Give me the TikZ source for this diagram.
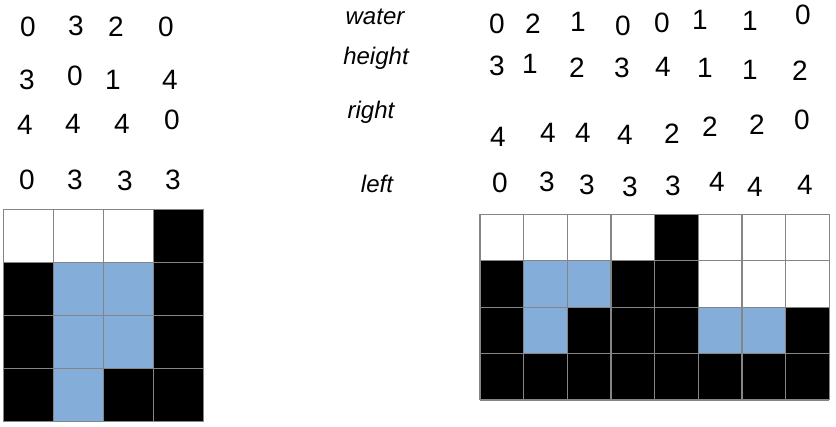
\documentclass[tikz,border=0pt]{standalone}
\usepackage{fontspec}
\setmainfont{Liberation Sans}
\definecolor{waterc}{HTML}{85ADDA}
\definecolor{gridc}{HTML}{858585}
\tikzset{
  num/.style={font=\fontsize{28}{28}\selectfont, inner sep=0pt, anchor=center},
  lbl/.style={font=\fontsize{24}{24}\selectfont\itshape, inner sep=0pt, anchor=center},
  gline/.style={draw=gridc, line width=1.3pt},
}
\begin{document}
\begin{tikzpicture}[x=1pt,y=-1pt]
\useasboundingbox[fill=white] (0,0) rectangle (836,427);
% ---------- left grid (4x4) ----------
\def\LX{3.3}\def\LY{209.5}\def\LW{50}\def\LH{53.05}
\foreach \c/\r in {3/0,0/1,3/1,0/2,3/2,0/3,2/3,3/3}
  \fill[black] (\LX+\c*\LW,\LY+\r*\LH) rectangle ++(\LW,\LH);
\foreach \c/\r in {1/1,2/1,1/2,2/2,1/3}
  \fill[waterc] (\LX+\c*\LW,\LY+\r*\LH) rectangle ++(\LW,\LH);
\foreach \i in {0,...,4} {
  \draw[gline] (\LX+\i*\LW,\LY) -- (\LX+\i*\LW,\LY+4*\LH);
  \draw[gline] (\LX,\LY+\i*\LH) -- (\LX+4*\LW,\LY+\i*\LH);
}
% ---------- right grid (8x4) ----------
\def\RX{480}\def\RY{214.3}\def\RW{43.66}\def\RH{46.43}
\foreach \c/\r in {4/0,0/1,3/1,4/1,0/2,2/2,3/2,4/2,7/2,0/3,1/3,2/3,3/3,4/3,5/3,6/3,7/3}
  \fill[black] (\RX+\c*\RW,\RY+\r*\RH) rectangle ++(\RW,\RH);
\foreach \c/\r in {1/1,2/1,1/2,5/2,6/2}
  \fill[waterc] (\RX+\c*\RW,\RY+\r*\RH) rectangle ++(\RW,\RH);
\foreach \i in {0,...,8}
  \draw[gline] (\RX+\i*\RW,\RY) -- (\RX+\i*\RW,\RY+4*\RH);
\foreach \i in {0,...,4}
  \draw[gline] (\RX,\RY+\i*\RH) -- (\RX+8*\RW,\RY+\i*\RH);
% ---------- left numbers ----------
\foreach \x/\y/\t [count=\k] in {
  28/27/0, 76/26/3, 116/27/2, 166/27/0,
  27/80/3, 75/76/0, 113/80/1, 170/80/4,
  25/125/4, 73/124/4, 122/124/4, 172/120/0,
  27/180/0, 75/180/3, 125/181/3, 173/180/3}
  \node[num] (ln\k) at (\x,\y) {\t};
% ---------- labels ----------
\node[lbl] (water) at (375,17) {water};
\node[lbl] (height) at (376,58) {height};
\node[lbl] (right) at (371,112) {right};
\node[lbl] (left) at (377,184) {left};
% ---------- right numbers ----------
\foreach \x/\y/\t [count=\k] in {
  497/24/0, 533/24/2, 578/22/1, 623/26/0, 662/23/0, 700/20/1, 750/21/1, 803/15/0,
  497/66/3, 530/64/1, 577/68/2, 622/68/3, 663/67/4, 705/68/1, 750/70/1, 800/71/2,
  498/137/4, 548/133/4, 583/133/4, 625/135/4, 672/134/2, 710/127/2, 757/125/2, 802/120/0,
  500/183/0, 547/182/3, 587/185/3, 630/187/3, 673/186/3, 717/182/4, 755/187/4, 805/185/4}
  \node[num] (rn\k) at (\x,\y) {\t};
\end{tikzpicture}
\end{document}
